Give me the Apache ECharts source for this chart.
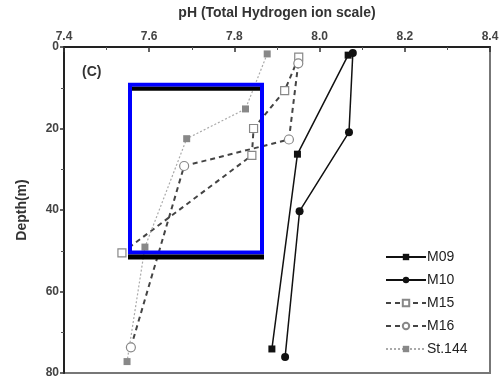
<!DOCTYPE html>
<html>
<head>
<meta charset="utf-8">
<script src="https://cdn.jsdelivr.net/npm/echarts@6/dist/echarts.min.js"></script>
<style>
  html, body { margin: 0; padding: 0; background: #fff; }
  #chart { width: 503px; height: 379px; }
</style>
</head>
<body>
<div id="chart"></div>
<script>
// pH (total hydrogen ion scale) profiles against depth
const phTicks = [7.4, 7.6, 7.8, 8.0, 8.2, 8.4];
const depthTicks = [0, 20, 40, 60, 80];

const phM09 = [8.067, 7.948, 7.888];
const depthM09 = [2.0, 26.3, 74.1];

const phM10 = [8.078, 8.069, 7.953, 7.919];
const depthM10 = [1.5, 20.9, 40.3, 76.1];

const phM15 = [7.951, 7.918, 7.845, 7.841, 7.536];
const depthM15 = [2.5, 10.7, 20.0, 26.6, 50.5];

const phM16 = [7.950, 7.928, 7.682, 7.557];
const depthM16 = [4.0, 22.7, 29.2, 73.7];

const phSt144 = [7.877, 7.826, 7.688, 7.590, 7.548];
const depthSt144 = [1.7, 15.2, 22.5, 49.1, 77.2];

const FONT = '"Liberation Sans", Arial, sans-serif';

function pairs(xs, ys) {
  return xs.map((x, i) => [x, ys[i]]);
}

const chart = echarts.init(document.getElementById('chart'), null, { renderer: 'canvas' });

chart.setOption({
  animation: false,
  backgroundColor: '#fff',
  textStyle: { fontFamily: FONT },
  grid: {
    left: 64, right: 13, top: 47, bottom: 5,
    show: true,
    borderColor: '#777',
    borderWidth: 2,
    backgroundColor: 'transparent'
  },
  xAxis: {
    type: 'value',
    position: 'top',
    min: phTicks[0],
    max: phTicks[phTicks.length - 1],
    interval: 0.2,
    name: 'pH (Total Hydrogen ion scale)',
    nameLocation: 'middle',
    nameGap: 27,
    nameTextStyle: { fontSize: 14, fontWeight: 'bold', color: '#333', fontFamily: FONT },
    axisLine: { show: true, lineStyle: { color: '#222', width: 2 } },
    axisTick: { show: true, inside: true, length: 5, lineStyle: { color: '#333', width: 1.5 } },
    minorTick: { show: true, splitNumber: 2, length: 3, lineStyle: { color: '#555', width: 1 } },
    axisLabel: {
      fontSize: 12, fontWeight: 'bold', color: '#444', margin: 4, fontFamily: FONT,
      formatter: v => v.toFixed(1)
    },
    splitLine: { show: false }
  },
  yAxis: {
    type: 'value',
    inverse: true,
    min: depthTicks[0],
    max: depthTicks[depthTicks.length - 1],
    interval: 20,
    name: 'Depth(m)',
    nameLocation: 'middle',
    nameRotate: 90,
    nameGap: 35,
    nameTextStyle: { fontSize: 14, fontWeight: 'bold', color: '#333', fontFamily: FONT },
    axisLine: { show: true, lineStyle: { color: '#222', width: 2 } },
    axisTick: { show: true, inside: false, length: 4, lineStyle: { color: '#333', width: 1.5 } },
    minorTick: { show: true, splitNumber: 2, length: 3, lineStyle: { color: '#555', width: 1 } },
    axisLabel: { fontSize: 12, fontWeight: 'bold', color: '#444', margin: 5, fontFamily: FONT },
    splitLine: { show: false }
  },
  legend: {
    orient: 'vertical',
    left: 380,
    top: 245,
    itemWidth: 40,
    itemHeight: 8,
    itemGap: 9,
    textStyle: { fontSize: 14, color: '#222', fontFamily: FONT, padding: [0, 0, 0, -4] },
    data: ['M09', 'M10', 'M15', 'M16', 'St.144']
  },
  series: [
    {
      name: 'M09', type: 'line', data: pairs(phM09, depthM09),
      symbol: 'rect', symbolSize: 7,
      lineStyle: { color: '#111', width: 1.5 },
      itemStyle: { color: '#111' }
    },
    {
      name: 'M10', type: 'line', data: pairs(phM10, depthM10),
      symbol: 'circle', symbolSize: 8,
      lineStyle: { color: '#111', width: 1.5 },
      itemStyle: { color: '#111' }
    },
    {
      name: 'M15', type: 'line', data: pairs(phM15, depthM15),
      symbol: 'rect', symbolSize: 8,
      lineStyle: { color: '#444', width: 2, type: [5, 4] },
      itemStyle: { color: '#fff', borderColor: '#888', borderWidth: 1.2 }
    },
    {
      name: 'M16', type: 'line', data: pairs(phM16, depthM16),
      symbol: 'circle', symbolSize: 9,
      lineStyle: { color: '#444', width: 2, type: [5, 4] },
      itemStyle: { color: '#fff', borderColor: '#888', borderWidth: 1.2 }
    },
    {
      name: 'St.144', type: 'line', data: pairs(phSt144, depthSt144),
      symbol: 'rect', symbolSize: 7,
      lineStyle: { color: '#aaa', width: 1.2, type: [2, 2] },
      itemStyle: { color: '#888' }
    }
  ],
  graphic: [
    {
      type: 'text', left: 82, top: 65, z: 10,
      style: { text: '(C)', font: 'bold 14px ' + FONT, fill: '#333' }
    },
    {
      type: 'rect', z: 20,
      shape: { x: 130, y: 84.7, width: 132, height: 167.8 },
      style: { fill: 'none', stroke: '#0000ff', lineWidth: 4 }
    },
    {
      type: 'rect', z: 21,
      shape: { x: 132, y: 86.7, width: 128, height: 4 },
      style: { fill: '#000' }
    },
    {
      type: 'rect', z: 21,
      shape: { x: 128, y: 254.5, width: 136, height: 5 },
      style: { fill: '#000' }
    }
  ]
});
</script>
</body>
</html>
